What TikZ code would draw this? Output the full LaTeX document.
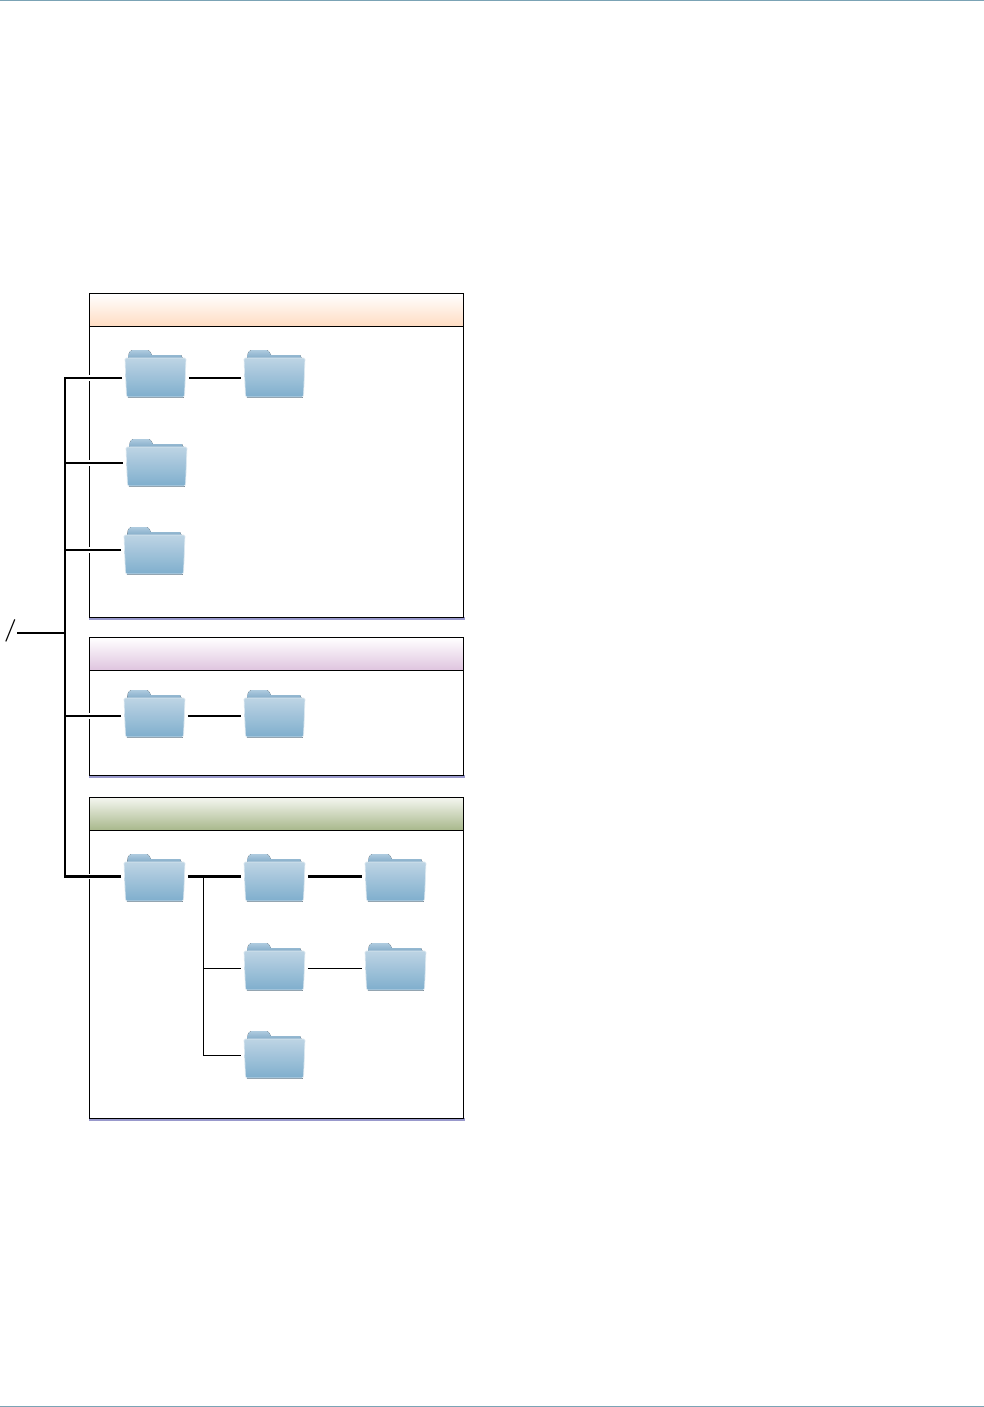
\documentclass[tikz,border=0pt]{standalone}
\usepackage{pgf, tikz}
\pgfdeclarelayer{boxlayer}
\pgfdeclarelayer{edgelayer}
\pgfdeclarelayer{nodelayer}
\pgfsetlayers{boxlayer,edgelayer,nodelayer,main}
\definecolor{rulecolor}{HTML}{7BA3B5}
\definecolor{shadowcolor}{HTML}{9999CC}
\definecolor{orangetint}{HTML}{FFDCC2}
\definecolor{purpletint}{HTML}{DEC4DF}
\definecolor{greentint}{HTML}{A7B78A}
\definecolor{greentop}{HTML}{F4F6F0}
\definecolor{tabtop}{HTML}{AECBDF}
\definecolor{tabbottom}{HTML}{7FA8C6}
\definecolor{foldertop}{HTML}{BDD4E4}
\definecolor{folderbottom}{HTML}{7FAECD}
\definecolor{folderrim}{HTML}{DCE8F0}
\definecolor{foldershade}{HTML}{6B7B88}
\tikzstyle{thickedge}=[draw=black, line width=1.6pt]
\tikzstyle{thinedge}=[draw=black, line width=0.65pt]
\tikzstyle{haloedge}=[draw=black, line width=1.5pt, preaction={draw=white, line width=4pt}]
\tikzstyle{trunkedge}=[draw=black, line width=1.7pt, line cap=rect]
\tikzstyle{vertex}=[rectangle, inner sep=0pt, outer sep=0pt, minimum width=47.5pt, minimum height=1pt]
\tikzstyle{box}=[draw=black, line width=0.8pt]
\tikzstyle{orangehead}=[box, top color=white, bottom color=orangetint]
\tikzstyle{purplehead}=[box, top color=white, bottom color=purpletint]
\tikzstyle{greenhead}=[box, top color=greentop, bottom color=greentint]
\tikzset{foldericon/.pic={
	\fill [top color=tabtop, bottom color=tabbottom] (3,9) -- (4,3) [rounded corners=1pt] -- (6,0) -- (24,0) [sharp corners] -- (27,5) -- (56,5) -- (58,9) -- cycle;
	\draw [line width=0.9pt, foldershade] (2.5,47.4) -- (58.5,47.4);
	\draw [line width=0.5pt, folderrim, top color=foldertop, bottom color=folderbottom, rounded corners=1pt] (0,8) -- (61,8) -- (59.5,47) -- (1.5,47) -- cycle;
}}

\begin{document}
\begin{tikzpicture}[x=0.025cm, y=-0.025cm]
	\useasboundingbox (0,0) rectangle (984,1407);
	\fill [rulecolor] (0,0) rectangle (984,1.5);
	\fill [rulecolor] (0,1405.8) rectangle (984,1407);
	\begin{pgfonlayer}{boxlayer}
		\fill [shadowcolor] (89,617) rectangle (464.5,620);
		\draw [style=box, fill=white] (89.5,293.5) rectangle (463.5,617.5);
		\draw [style=orangehead] (89.5,293.5) rectangle (463.5,326.5);
		\fill [shadowcolor] (89,775) rectangle (464.5,778);
		\draw [style=box, fill=white] (89.5,637.5) rectangle (463.5,775.5);
		\draw [style=purplehead] (89.5,637.5) rectangle (463.5,670.5);
		\fill [shadowcolor] (89,1118) rectangle (464.5,1121);
		\draw [style=box, fill=white] (89.5,797.5) rectangle (463.5,1118.5);
		\draw [style=greenhead] (89.5,797.5) rectangle (463.5,830.5);
	\end{pgfonlayer}
	\begin{pgfonlayer}{nodelayer}
		\node [inner sep=0pt, font=\fontsize{16}{16}\selectfont\bfseries] (0) at (10.5,631) {/};
		\coordinate (trunk) at (65,633);
		\coordinate (branch) at (203.5,876.5);
		\node [style=vertex] (1) at (155.5,378) {};
		\node [style=vertex] (2) at (274.5,378) {};
		\node [style=vertex] (3) at (156.5,463) {};
		\node [style=vertex] (4) at (154.5,550) {};
		\node [style=vertex] (5) at (154.5,716) {};
		\node [style=vertex] (6) at (274.5,716) {};
		\node [style=vertex] (7) at (154.5,876.5) {};
		\node [style=vertex] (8) at (274.5,876.5) {};
		\node [style=vertex] (9) at (395.5,876.5) {};
		\node [style=vertex] (10) at (274.5,968) {};
		\node [style=vertex] (11) at (395.5,968) {};
		\node [style=vertex] (12) at (274.5,1055) {};
		\pic at (125,350) {foldericon};
		\pic at (244,350) {foldericon};
		\pic at (126,439) {foldericon};
		\pic at (124,527) {foldericon};
		\pic at (124,690) {foldericon};
		\pic at (244,690) {foldericon};
		\pic at (124,854) {foldericon};
		\pic at (244,854) {foldericon};
		\pic at (365,854) {foldericon};
		\pic at (244,943) {foldericon};
		\pic at (365,943) {foldericon};
		\pic at (244,1031) {foldericon};
	\end{pgfonlayer}
	\begin{pgfonlayer}{edgelayer}
		\draw [style=thickedge] (0.east |- trunk) to (trunk);
		\draw [style=haloedge] (1) to (trunk |- 1);
		\draw [style=haloedge] (3) to (trunk |- 3);
		\draw [style=haloedge] (4) to (trunk |- 4);
		\draw [style=haloedge] (5) to (trunk |- 5);
		\draw [style=haloedge] (7) to (trunk |- 7);
		\draw [style=trunkedge] (trunk |- 1) to (trunk |- 7);
		\draw [style=thickedge] (1) to (2);
		\draw [style=thickedge] (5) to (6);
		\draw [style=thickedge] (7) to (8);
		\draw [style=thickedge] (8) to (9);
		\draw [style=thinedge] (10) to (11);
		\draw [style=thinedge] (branch) |- (12);
		\draw [style=thinedge] (branch |- 10) to (10);
	\end{pgfonlayer}
\end{tikzpicture}
\end{document}
